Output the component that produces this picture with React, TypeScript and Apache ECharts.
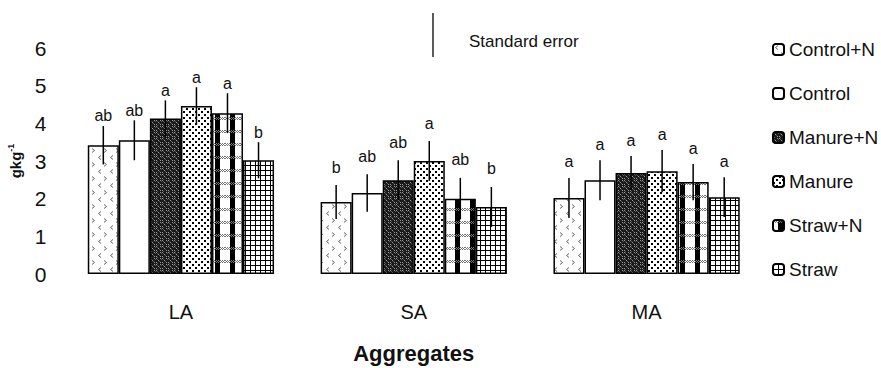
import React, { useEffect, useRef } from "react";
import * as echarts from "echarts";

const categories = ["LA", "SA", "MA"];
const treatments = ["Control+N", "Control", "Manure+N", "Manure", "Straw+N", "Straw"];
// values per treatment across LA, SA, MA (g kg-1)
const controlN = [3.42, 1.91, 2.02];
const control = [3.55, 2.15, 2.49];
const manureN = [4.13, 2.49, 2.68];
const manure = [4.46, 3.0, 2.73];
const strawN = [4.27, 2.0, 2.44];
const straw = [3.02, 1.78, 2.04];
// standard errors
const seControlN = [0.51, 0.45, 0.53];
const seControl = [0.53, 0.5, 0.53];
const seManureN = [0.48, 0.53, 0.45];
const seManure = [0.5, 0.53, 0.56];
const seStrawN = [0.53, 0.55, 0.48];
const seStraw = [0.48, 0.53, 0.53];
// significance letters
const lettersControlN = ["ab", "b", "a"];
const lettersControl = ["ab", "ab", "a"];
const lettersManureN = ["a", "ab", "a"];
const lettersManure = ["a", "a", "a"];
const lettersStrawN = ["a", "ab", "a"];
const lettersStraw = ["b", "b", "a"];
const yTicks = [0, 1, 2, 3, 4, 5, 6];

// styling: gap (px) between error-bar top and its letter, per aggregate group
const LETTER_GAP = [5, 13, 11];
const FONT = "'Liberation Sans', Arial, sans-serif";

function makeTile(w: number, h: number, bg: string, draw: (ctx: CanvasRenderingContext2D) => void) {
  const c = document.createElement("canvas");
  c.width = w;
  c.height = h;
  const ctx = c.getContext("2d") as CanvasRenderingContext2D;
  ctx.fillStyle = bg;
  ctx.fillRect(0, 0, w, h);
  draw(ctx);
  return { image: c.toDataURL(), repeat: "repeat", imageWidth: w, imageHeight: h } as any;
}

function buildPatterns() {
  const pControlN = makeTile(12, 14, "#ffffff", (ctx) => {
    ctx.strokeStyle = "#666";
    ctx.lineWidth = 1;
    ctx.beginPath();
    ctx.moveTo(5, 1.5);
    ctx.lineTo(2.5, 3.5);
    ctx.lineTo(5, 5.5);
    ctx.moveTo(8, 8.5);
    ctx.lineTo(10.5, 10.5);
    ctx.lineTo(8, 12.5);
    ctx.stroke();
  });
  const pControl = "#ffffff";
  const pManureN = makeTile(6, 6, "#1a1a1a", (ctx) => {
    ctx.fillStyle = "#9a9a9a";
    ctx.fillRect(0, 0, 1, 1);
    ctx.fillRect(2, 2, 1, 1);
    ctx.fillRect(4, 4, 1, 1);
    ctx.fillRect(4, 0, 1, 1);
    ctx.fillRect(0, 4, 1, 1);
    ctx.fillStyle = "#555";
    ctx.fillRect(1, 1, 1, 1);
    ctx.fillRect(3, 3, 1, 1);
    ctx.fillRect(5, 1, 1, 1);
    ctx.fillRect(1, 5, 1, 1);
  });
  const pManure = makeTile(6, 6, "#ffffff", (ctx) => {
    ctx.fillStyle = "#000";
    ctx.fillRect(0, 0, 2, 2);
    ctx.fillRect(3, 3, 2, 2);
  });
  const pStrawN = makeTile(15, 13, "#ffffff", (ctx) => {
    ctx.fillStyle = "#000";
    ctx.fillRect(5, 0, 5, 13);
    ctx.fillStyle = "#777";
    for (let x = 0; x < 15; x += 2) {
      ctx.fillRect(x, 0, 1, 1);
      ctx.fillRect(x + 1, 1, 1, 1);
      ctx.fillRect(x, 2, 1, 1);
    }
  });
  const pStraw = makeTile(5, 5, "#ffffff", (ctx) => {
    ctx.fillStyle = "#000";
    ctx.fillRect(0, 0, 5, 1);
    ctx.fillRect(0, 0, 1, 5);
  });
  return [pControlN, pControl, pManureN, pManure, pStrawN, pStraw];
}

export default function App() {
  const ref = useRef<HTMLDivElement>(null);
  useEffect(() => {
    if (!ref.current) return;
    const chart = echarts.init(ref.current, null, { renderer: "svg" });
    const patterns = buildPatterns();
    const values = [controlN, control, manureN, manure, strawN, straw];
    const ses = [seControlN, seControl, seManureN, seManure, seStrawN, seStraw];
    const letters = [lettersControlN, lettersControl, lettersManureN, lettersManure, lettersStrawN, lettersStraw];

    const errRows: any[] = [];
    const errMeta: { letter: string }[] = [];
    values.forEach((arr, si) => {
      arr.forEach((v, ci) => {
        errRows.push([ci, v, ses[si][ci], si]);
        errMeta.push({ letter: letters[si][ci] });
      });
    });

    const barSeries = treatments.map((name, si) => ({
      name,
      type: "bar",
      data: values[si],
      barGap: "0%",
      barCategoryGap: "20%",
      itemStyle: { color: patterns[si], borderColor: "#000", borderWidth: 1.5 },
    }));

    const option: any = {
      animation: false,
      backgroundColor: "#ffffff",
      textStyle: { fontFamily: FONT },
      grid: { left: 64.5, right: 118, top: 48, bottom: 94, outerBoundsMode: "none", containLabel: false },
      legend: {
        orient: "vertical",
        left: 772,
        top: 40,
        padding: 0,
        itemWidth: 11,
        itemHeight: 11,
        itemGap: 25,
        selectedMode: false,
        textStyle: { fontSize: 19, color: "#111", fontFamily: FONT },
        data: treatments,
      },
      xAxis: {
        type: "category",
        data: categories,
        axisLine: { show: false },
        axisTick: { show: false },
        axisLabel: { fontSize: 20, color: "#111", margin: 28, fontFamily: FONT },
        name: "Aggregates",
        nameLocation: "middle",
        nameGap: 68,
        nameMoveOverlap: false,
        nameTextStyle: { fontSize: 22, fontWeight: "bold", color: "#111", fontFamily: FONT },
      },
      yAxis: {
        type: "value",
        min: yTicks[0],
        max: yTicks[yTicks.length - 1],
        interval: 1,
        axisLine: { show: false },
        axisTick: { show: false },
        splitLine: { show: false },
        axisLabel: { fontSize: 21, color: "#111", margin: 18, fontFamily: FONT },
        name: "{a|gkg}{b|-1}",
        nameLocation: "middle",
        nameGap: 41,
        nameRotate: 90,
        nameMoveOverlap: false,
        nameTextStyle: {
          rich: {
            a: { fontSize: 15, fontWeight: "bold", color: "#111", fontFamily: FONT },
            b: { fontSize: 9, fontWeight: "bold", color: "#111", fontFamily: FONT, verticalAlign: "top", padding: [0, 0, 8, 0] },
          },
        },
      },
      graphic: [
        {
          type: "line",
          shape: { x1: 433, y1: 13, x2: 433, y2: 57 },
          style: { stroke: "#000", lineWidth: 1.3 },
        },
        {
          type: "text",
          x: 469,
          y: 41,
          style: { text: "Standard error", fontSize: 17, fill: "#111", fontFamily: FONT, textVerticalAlign: "middle" },
        },
      ],
      series: [
        ...barSeries,
        {
          type: "custom",
          z: 10,
          data: errRows,
          renderItem: (params: any, api: any) => {
            const ci = api.value(0);
            const v = api.value(1);
            const se = api.value(2);
            const si = api.value(3);
            const catW = api.size([1, 0])[0];
            const bw = (catW * 0.8) / 6;
            const cx = api.coord([ci, 0])[0] + (si - 2.5) * bw;
            const top = api.coord([ci, v + se])[1];
            const bot = api.coord([ci, v - se])[1];
            return {
              type: "group",
              children: [
                { type: "line", shape: { x1: cx, y1: top, x2: cx, y2: bot }, style: { stroke: "#000", lineWidth: 1.5 } },
                {
                  type: "text",
                  style: {
                    text: errMeta[params.dataIndex].letter,
                    x: cx,
                    y: top - LETTER_GAP[ci] + 3,
                    textAlign: "center",
                    textVerticalAlign: "bottom",
                    fontSize: 16,
                    fill: "#111",
                    fontFamily: FONT,
                  },
                },
              ],
            };
          },
        },
      ],
    };
    chart.setOption(option);
    return () => chart.dispose();
  }, []);
  return <div ref={ref} style={{ width: 881, height: 368, position: "absolute", left: 0, top: 0 }} />;
}
